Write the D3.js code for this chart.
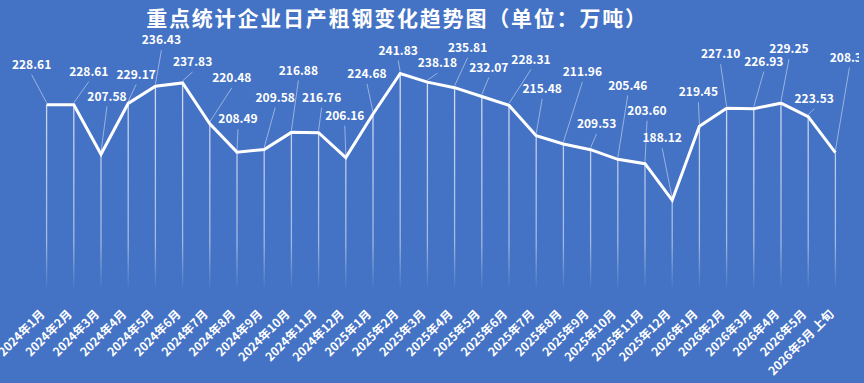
<!DOCTYPE html>
<html>
  <head>
    <meta charset="utf-8">
    <title>重点统计企业日产粗钢变化趋势图</title>
    <script src="https://d3js.org/d3.v7.min.js"></script>
    <style>
      html, body { margin: 0; padding: 0; background: #4472C4; }
    </style>
  </head>
  <body>

    <div id="chart"></div>
    <script>
// Categories (months)
const months = [
  "2024年1月","2024年2月","2024年3月","2024年4月","2024年5月","2024年6月",
  "2024年7月","2024年8月","2024年9月","2024年10月","2024年11月","2024年12月",
  "2025年1月","2025年2月","2025年3月","2025年4月","2025年5月","2025年6月",
  "2025年7月","2025年8月","2025年9月","2025年10月","2025年11月","2025年12月",
  "2026年1月","2026年2月","2026年3月","2026年4月","2026年5月","2026年5月 上旬"
];

// Daily crude steel output (万吨)
const output = [
  228.61, 228.61, 207.58, 229.17, 236.43, 237.83,
  220.48, 208.49, 209.58, 216.88, 216.76, 206.16,
  224.68, 241.83, 238.18, 235.81, 232.07, 228.31,
  215.48, 211.96, 209.53, 205.46, 203.60, 188.12,
  219.45, 227.10, 226.93, 229.25, 223.53, 208.30
];

// Value axis range (hidden)
const yDomain = [150, 250];

// Data label offsets from their point, [dx, dy] in px
const labelOffsets = [
  [-15, -40], [15, -33], [6, -58], [8, -29], [6, -46], [10, -21],
  [22, -46], [1, -33], [11, -52], [7, -62], [3, -35], [-1, -42],
  [-6, -40], [-2, -23], [10, -19], [13, -40], [7, -29], [22, -46],
  [6, -47], [19, -72], [6, -26], [10, -74], [2, -53], [-10, -62],
  [-1, -34], [-6, -54], [10, -47], [8, -54], [6, -18], [14, -95]
];

const data = months.map((m, i) => ({ month: m, value: output[i], off: labelOffsets[i] }));

// Chart dimensions
const width = 864;
const height = 383;
const plotLeft = 33;
const plotRight = 849;
const plotTop = 54.2;
const plotBottom = 290.2;

function createChart() {
  const x = d3.scalePoint()
    .domain(months)
    .range([plotLeft, plotRight])
    .padding(0.5);

  const y = d3.scaleLinear()
    .domain(yDomain)
    .range([plotBottom, plotTop]);

  const svg = d3.select("#chart").append("svg")
    .attr("width", width)
    .attr("height", height)
    .attr("viewBox", [0, 0, width, height])
    .style("font-family", "'Noto Sans CJK SC', 'Noto Sans', sans-serif");

  svg.append("rect")
    .attr("width", width)
    .attr("height", height)
    .attr("fill", "#4472C4");

  const defs = svg.append("defs");
  const grad = defs.append("linearGradient")
    .attr("id", "dropFade")
    .attr("gradientUnits", "userSpaceOnUse")
    .attr("x1", 0).attr("x2", 0)
    .attr("y1", 60).attr("y2", plotBottom);
  grad.append("stop").attr("offset", 0).attr("stop-color", "#fff").attr("stop-opacity", 0.8);
  grad.append("stop").attr("offset", 0.8).attr("stop-color", "#fff").attr("stop-opacity", 0.5);
  grad.append("stop").attr("offset", 1).attr("stop-color", "#fff").attr("stop-opacity", 0);

  // the last label is cut at the right edge, as in the original
  defs.append("clipPath").attr("id", "edgeClip")
    .append("rect").attr("x", 0).attr("y", 0).attr("width", 859).attr("height", height);

  // Title
  svg.append("text")
    .attr("x", 397)
    .attr("y", 26)
    .attr("text-anchor", "middle")
    .attr("fill", "#fff")
    .style("font-size", "21px")
    .style("letter-spacing", "1.8px")
    .style("font-weight", "bold")
    .text("重点统计企业日产粗钢变化趋势图（单位：万吨）");

  // Drop lines
  svg.append("g")
    .selectAll("line")
    .data(data)
    .join("line")
    .attr("x1", d => x(d.month))
    .attr("x2", d => x(d.month))
    .attr("y1", d => y(d.value))
    .attr("y2", plotBottom)
    .attr("stroke", "url(#dropFade)")
    .attr("stroke-width", 1.3);

  // Main line
  const line = d3.line()
    .x(d => x(d.month))
    .y(d => y(d.value));

  svg.append("path")
    .datum(data)
    .attr("fill", "none")
    .attr("stroke", "#fff")
    .attr("stroke-width", 3)
    .attr("stroke-linejoin", "miter")
    .attr("d", line);

  // Leader lines
  svg.append("g")
    .selectAll("line")
    .data(data)
    .join("line")
    .attr("x1", d => x(d.month) + d.off[0])
    .attr("y1", d => y(d.value) + d.off[1] + 10)
    .attr("x2", d => x(d.month))
    .attr("y2", d => y(d.value) - 2)
    .attr("stroke", "rgba(255,255,255,0.45)")
    .attr("stroke-width", 1);

  // Data labels
  svg.append("g")
    .attr("clip-path", "url(#edgeClip)")
    .selectAll("text")
    .data(data)
    .join("text")
    .attr("x", d => x(d.month) + d.off[0])
    .attr("y", d => y(d.value) + d.off[1])
    .attr("dy", "0.35em")
    .attr("text-anchor", "middle")
    .attr("fill", "#fff")
    .style("font-size", "12px")
    .style("font-weight", "bold")
    .text(d => d.value.toFixed(2));

  // Category labels
  svg.append("g")
    .selectAll("text")
    .data(data)
    .join("text")
    .attr("transform", d => `translate(${x(d.month) - 1},315) rotate(-45)`)
    .attr("text-anchor", "end")
    .attr("fill", "#fff")
    .style("font-size", "12px")
    .style("font-weight", "bold")
    .text(d => d.month);
}

createChart();
    </script>
  </body>
</html>
